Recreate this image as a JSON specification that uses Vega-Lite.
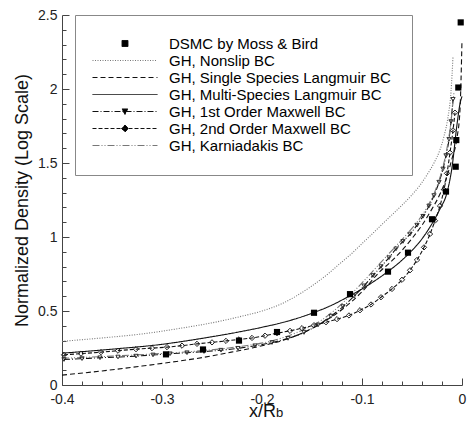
{
  "$schema": "https://vega.github.io/schema/vega-lite/v6.json",
  "width": 400,
  "height": 370,
  "autosize": {"type": "none"},
  "padding": {"left": 62, "top": 15, "right": 6, "bottom": 36},
  "background": "white",
  "config": {
    "view": {"stroke": null},
    "font": "Liberation Sans",
    "axis": {"grid": false, "domainColor": "#444", "tickColor": "#444", "labelColor": "#222", "titleColor": "#111", "labelFont": "Liberation Sans", "titleFont": "Liberation Sans", "titleFontWeight": "normal"},
    "legend": {"title": null, "orient": "none", "legendX": 13, "legendY": 0, "padding": 21, "strokeColor": "#888888", "fillColor": "white", "symbolSize": 196, "symbolStrokeWidth": 1, "symbolOpacity": 1, "labelFontSize": 15, "labelFont": "Liberation Sans", "labelColor": "black", "labelOffset": 58, "labelLimit": 400, "rowPadding": 1}
  },
  "datasets": {
    "curves": [
      {"series": "GH, Nonslip BC", "x": -0.4, "y": 0.295},
      {"series": "GH, Nonslip BC", "x": -0.36, "y": 0.318},
      {"series": "GH, Nonslip BC", "x": -0.32, "y": 0.345},
      {"series": "GH, Nonslip BC", "x": -0.28, "y": 0.385},
      {"series": "GH, Nonslip BC", "x": -0.25, "y": 0.42},
      {"series": "GH, Nonslip BC", "x": -0.22, "y": 0.465},
      {"series": "GH, Nonslip BC", "x": -0.2, "y": 0.5},
      {"series": "GH, Nonslip BC", "x": -0.18, "y": 0.55},
      {"series": "GH, Nonslip BC", "x": -0.166, "y": 0.6},
      {"series": "GH, Nonslip BC", "x": -0.15, "y": 0.67},
      {"series": "GH, Nonslip BC", "x": -0.135, "y": 0.745},
      {"series": "GH, Nonslip BC", "x": -0.123, "y": 0.815},
      {"series": "GH, Nonslip BC", "x": -0.11, "y": 0.89},
      {"series": "GH, Nonslip BC", "x": -0.1, "y": 0.955},
      {"series": "GH, Nonslip BC", "x": -0.09, "y": 1.02},
      {"series": "GH, Nonslip BC", "x": -0.08, "y": 1.085},
      {"series": "GH, Nonslip BC", "x": -0.07, "y": 1.15},
      {"series": "GH, Nonslip BC", "x": -0.06, "y": 1.215},
      {"series": "GH, Nonslip BC", "x": -0.05, "y": 1.285},
      {"series": "GH, Nonslip BC", "x": -0.042, "y": 1.35},
      {"series": "GH, Nonslip BC", "x": -0.035, "y": 1.42},
      {"series": "GH, Nonslip BC", "x": -0.028, "y": 1.5},
      {"series": "GH, Nonslip BC", "x": -0.022, "y": 1.59},
      {"series": "GH, Nonslip BC", "x": -0.018, "y": 1.68},
      {"series": "GH, Nonslip BC", "x": -0.014, "y": 1.81},
      {"series": "GH, Nonslip BC", "x": -0.011, "y": 1.98},
      {"series": "GH, Nonslip BC", "x": -0.009, "y": 2.22},

      {"series": "GH, Single Species Langmuir BC", "x": -0.4, "y": 0.067},
      {"series": "GH, Single Species Langmuir BC", "x": -0.36, "y": 0.095},
      {"series": "GH, Single Species Langmuir BC", "x": -0.32, "y": 0.128},
      {"series": "GH, Single Species Langmuir BC", "x": -0.29, "y": 0.155},
      {"series": "GH, Single Species Langmuir BC", "x": -0.26, "y": 0.185},
      {"series": "GH, Single Species Langmuir BC", "x": -0.236, "y": 0.215},
      {"series": "GH, Single Species Langmuir BC", "x": -0.2, "y": 0.265},
      {"series": "GH, Single Species Langmuir BC", "x": -0.18, "y": 0.3},
      {"series": "GH, Single Species Langmuir BC", "x": -0.16, "y": 0.35},
      {"series": "GH, Single Species Langmuir BC", "x": -0.14, "y": 0.42},
      {"series": "GH, Single Species Langmuir BC", "x": -0.12, "y": 0.51},
      {"series": "GH, Single Species Langmuir BC", "x": -0.1, "y": 0.63},
      {"series": "GH, Single Species Langmuir BC", "x": -0.083, "y": 0.76},
      {"series": "GH, Single Species Langmuir BC", "x": -0.07, "y": 0.84},
      {"series": "GH, Single Species Langmuir BC", "x": -0.06, "y": 0.91},
      {"series": "GH, Single Species Langmuir BC", "x": -0.05, "y": 0.99},
      {"series": "GH, Single Species Langmuir BC", "x": -0.04, "y": 1.08},
      {"series": "GH, Single Species Langmuir BC", "x": -0.03, "y": 1.19},
      {"series": "GH, Single Species Langmuir BC", "x": -0.022, "y": 1.29},
      {"series": "GH, Single Species Langmuir BC", "x": -0.015, "y": 1.41},
      {"series": "GH, Single Species Langmuir BC", "x": -0.01, "y": 1.53},
      {"series": "GH, Single Species Langmuir BC", "x": -0.005, "y": 1.67},
      {"series": "GH, Single Species Langmuir BC", "x": -0.002, "y": 1.86},
      {"series": "GH, Single Species Langmuir BC", "x": 0, "y": 2.33},

      {"series": "GH, Multi-Species Langmuir BC", "x": -0.4, "y": 0.215},
      {"series": "GH, Multi-Species Langmuir BC", "x": -0.35, "y": 0.242},
      {"series": "GH, Multi-Species Langmuir BC", "x": -0.3, "y": 0.275},
      {"series": "GH, Multi-Species Langmuir BC", "x": -0.26, "y": 0.315},
      {"series": "GH, Multi-Species Langmuir BC", "x": -0.233, "y": 0.346},
      {"series": "GH, Multi-Species Langmuir BC", "x": -0.2, "y": 0.39},
      {"series": "GH, Multi-Species Langmuir BC", "x": -0.175, "y": 0.43},
      {"series": "GH, Multi-Species Langmuir BC", "x": -0.15, "y": 0.485},
      {"series": "GH, Multi-Species Langmuir BC", "x": -0.13, "y": 0.54},
      {"series": "GH, Multi-Species Langmuir BC", "x": -0.113, "y": 0.6},
      {"series": "GH, Multi-Species Langmuir BC", "x": -0.095, "y": 0.67},
      {"series": "GH, Multi-Species Langmuir BC", "x": -0.075, "y": 0.762},
      {"series": "GH, Multi-Species Langmuir BC", "x": -0.064, "y": 0.82},
      {"series": "GH, Multi-Species Langmuir BC", "x": -0.053, "y": 0.889},
      {"series": "GH, Multi-Species Langmuir BC", "x": -0.042, "y": 0.97},
      {"series": "GH, Multi-Species Langmuir BC", "x": -0.03, "y": 1.09},
      {"series": "GH, Multi-Species Langmuir BC", "x": -0.022, "y": 1.19},
      {"series": "GH, Multi-Species Langmuir BC", "x": -0.015, "y": 1.3},
      {"series": "GH, Multi-Species Langmuir BC", "x": -0.01, "y": 1.47},
      {"series": "GH, Multi-Species Langmuir BC", "x": -0.005, "y": 1.76},
      {"series": "GH, Multi-Species Langmuir BC", "x": -0.002, "y": 1.9},
      {"series": "GH, Multi-Species Langmuir BC", "x": 0, "y": 1.95},

      {"series": "GH, 1st Order Maxwell BC", "x": -0.398, "y": 0.172},
      {"series": "GH, 1st Order Maxwell BC", "x": -0.38, "y": 0.178},
      {"series": "GH, 1st Order Maxwell BC", "x": -0.362, "y": 0.184},
      {"series": "GH, 1st Order Maxwell BC", "x": -0.344, "y": 0.189},
      {"series": "GH, 1st Order Maxwell BC", "x": -0.326, "y": 0.195},
      {"series": "GH, 1st Order Maxwell BC", "x": -0.309, "y": 0.203},
      {"series": "GH, 1st Order Maxwell BC", "x": -0.292, "y": 0.211},
      {"series": "GH, 1st Order Maxwell BC", "x": -0.275, "y": 0.218},
      {"series": "GH, 1st Order Maxwell BC", "x": -0.258, "y": 0.226},
      {"series": "GH, 1st Order Maxwell BC", "x": -0.241, "y": 0.235},
      {"series": "GH, 1st Order Maxwell BC", "x": -0.224, "y": 0.248},
      {"series": "GH, 1st Order Maxwell BC", "x": -0.207, "y": 0.265},
      {"series": "GH, 1st Order Maxwell BC", "x": -0.19, "y": 0.287},
      {"series": "GH, 1st Order Maxwell BC", "x": -0.174, "y": 0.315},
      {"series": "GH, 1st Order Maxwell BC", "x": -0.158, "y": 0.355},
      {"series": "GH, 1st Order Maxwell BC", "x": -0.144, "y": 0.405},
      {"series": "GH, 1st Order Maxwell BC", "x": -0.131, "y": 0.465},
      {"series": "GH, 1st Order Maxwell BC", "x": -0.119, "y": 0.53},
      {"series": "GH, 1st Order Maxwell BC", "x": -0.108, "y": 0.6},
      {"series": "GH, 1st Order Maxwell BC", "x": -0.098, "y": 0.67},
      {"series": "GH, 1st Order Maxwell BC", "x": -0.089, "y": 0.74},
      {"series": "GH, 1st Order Maxwell BC", "x": -0.081, "y": 0.8},
      {"series": "GH, 1st Order Maxwell BC", "x": -0.073, "y": 0.86},
      {"series": "GH, 1st Order Maxwell BC", "x": -0.066, "y": 0.92},
      {"series": "GH, 1st Order Maxwell BC", "x": -0.059, "y": 0.97},
      {"series": "GH, 1st Order Maxwell BC", "x": -0.052, "y": 1.02},
      {"series": "GH, 1st Order Maxwell BC", "x": -0.045, "y": 1.08},
      {"series": "GH, 1st Order Maxwell BC", "x": -0.039, "y": 1.14},
      {"series": "GH, 1st Order Maxwell BC", "x": -0.033, "y": 1.21},
      {"series": "GH, 1st Order Maxwell BC", "x": -0.028, "y": 1.28},
      {"series": "GH, 1st Order Maxwell BC", "x": -0.023, "y": 1.37},
      {"series": "GH, 1st Order Maxwell BC", "x": -0.019, "y": 1.46},
      {"series": "GH, 1st Order Maxwell BC", "x": -0.016, "y": 1.55},
      {"series": "GH, 1st Order Maxwell BC", "x": -0.013, "y": 1.66},
      {"series": "GH, 1st Order Maxwell BC", "x": -0.011, "y": 1.78},
      {"series": "GH, 1st Order Maxwell BC", "x": -0.009, "y": 1.93},

      {"series": "GH, 2nd Order Maxwell BC", "x": -0.398, "y": 0.204},
      {"series": "GH, 2nd Order Maxwell BC", "x": -0.381, "y": 0.212},
      {"series": "GH, 2nd Order Maxwell BC", "x": -0.361, "y": 0.222},
      {"series": "GH, 2nd Order Maxwell BC", "x": -0.344, "y": 0.232},
      {"series": "GH, 2nd Order Maxwell BC", "x": -0.326, "y": 0.242},
      {"series": "GH, 2nd Order Maxwell BC", "x": -0.31, "y": 0.249},
      {"series": "GH, 2nd Order Maxwell BC", "x": -0.295, "y": 0.256},
      {"series": "GH, 2nd Order Maxwell BC", "x": -0.28, "y": 0.266},
      {"series": "GH, 2nd Order Maxwell BC", "x": -0.265, "y": 0.278},
      {"series": "GH, 2nd Order Maxwell BC", "x": -0.25, "y": 0.288},
      {"series": "GH, 2nd Order Maxwell BC", "x": -0.236, "y": 0.298},
      {"series": "GH, 2nd Order Maxwell BC", "x": -0.223, "y": 0.308},
      {"series": "GH, 2nd Order Maxwell BC", "x": -0.21, "y": 0.318},
      {"series": "GH, 2nd Order Maxwell BC", "x": -0.197, "y": 0.333},
      {"series": "GH, 2nd Order Maxwell BC", "x": -0.185, "y": 0.35},
      {"series": "GH, 2nd Order Maxwell BC", "x": -0.172, "y": 0.366},
      {"series": "GH, 2nd Order Maxwell BC", "x": -0.16, "y": 0.384},
      {"series": "GH, 2nd Order Maxwell BC", "x": -0.148, "y": 0.404},
      {"series": "GH, 2nd Order Maxwell BC", "x": -0.136, "y": 0.424},
      {"series": "GH, 2nd Order Maxwell BC", "x": -0.125, "y": 0.445},
      {"series": "GH, 2nd Order Maxwell BC", "x": -0.113, "y": 0.47},
      {"series": "GH, 2nd Order Maxwell BC", "x": -0.102, "y": 0.505},
      {"series": "GH, 2nd Order Maxwell BC", "x": -0.091, "y": 0.544},
      {"series": "GH, 2nd Order Maxwell BC", "x": -0.081, "y": 0.593},
      {"series": "GH, 2nd Order Maxwell BC", "x": -0.07, "y": 0.649},
      {"series": "GH, 2nd Order Maxwell BC", "x": -0.06, "y": 0.711},
      {"series": "GH, 2nd Order Maxwell BC", "x": -0.052, "y": 0.775},
      {"series": "GH, 2nd Order Maxwell BC", "x": -0.045, "y": 0.845},
      {"series": "GH, 2nd Order Maxwell BC", "x": -0.038, "y": 0.93},
      {"series": "GH, 2nd Order Maxwell BC", "x": -0.032, "y": 1.02},
      {"series": "GH, 2nd Order Maxwell BC", "x": -0.027, "y": 1.11},
      {"series": "GH, 2nd Order Maxwell BC", "x": -0.022, "y": 1.21},
      {"series": "GH, 2nd Order Maxwell BC", "x": -0.018, "y": 1.32},
      {"series": "GH, 2nd Order Maxwell BC", "x": -0.015, "y": 1.43},
      {"series": "GH, 2nd Order Maxwell BC", "x": -0.012, "y": 1.57},
      {"series": "GH, 2nd Order Maxwell BC", "x": -0.009, "y": 1.72},
      {"series": "GH, 2nd Order Maxwell BC", "x": -0.007, "y": 1.84},

      {"series": "GH, Karniadakis BC", "x": -0.4, "y": 0.18},
      {"series": "GH, Karniadakis BC", "x": -0.35, "y": 0.195},
      {"series": "GH, Karniadakis BC", "x": -0.3, "y": 0.213},
      {"series": "GH, Karniadakis BC", "x": -0.26, "y": 0.232},
      {"series": "GH, Karniadakis BC", "x": -0.22, "y": 0.262},
      {"series": "GH, Karniadakis BC", "x": -0.19, "y": 0.298},
      {"series": "GH, Karniadakis BC", "x": -0.16, "y": 0.37},
      {"series": "GH, Karniadakis BC", "x": -0.14, "y": 0.44},
      {"series": "GH, Karniadakis BC", "x": -0.12, "y": 0.55},
      {"series": "GH, Karniadakis BC", "x": -0.1, "y": 0.69},
      {"series": "GH, Karniadakis BC", "x": -0.085, "y": 0.8},
      {"series": "GH, Karniadakis BC", "x": -0.07, "y": 0.91},
      {"series": "GH, Karniadakis BC", "x": -0.055, "y": 1.02},
      {"series": "GH, Karniadakis BC", "x": -0.045, "y": 1.1},
      {"series": "GH, Karniadakis BC", "x": -0.035, "y": 1.2},
      {"series": "GH, Karniadakis BC", "x": -0.027, "y": 1.31},
      {"series": "GH, Karniadakis BC", "x": -0.02, "y": 1.45},
      {"series": "GH, Karniadakis BC", "x": -0.015, "y": 1.6},
      {"series": "GH, Karniadakis BC", "x": -0.011, "y": 1.78},
      {"series": "GH, Karniadakis BC", "x": -0.008, "y": 1.98}
    ],
    "dsmc": [
      {"series": "DSMC by Moss & Bird", "x": -0.296, "y": 0.207},
      {"series": "DSMC by Moss & Bird", "x": -0.259, "y": 0.24},
      {"series": "DSMC by Moss & Bird", "x": -0.223, "y": 0.3},
      {"series": "DSMC by Moss & Bird", "x": -0.185, "y": 0.358},
      {"series": "DSMC by Moss & Bird", "x": -0.148, "y": 0.488},
      {"series": "DSMC by Moss & Bird", "x": -0.112, "y": 0.614},
      {"series": "DSMC by Moss & Bird", "x": -0.074, "y": 0.766},
      {"series": "DSMC by Moss & Bird", "x": -0.054, "y": 0.894},
      {"series": "DSMC by Moss & Bird", "x": -0.03, "y": 1.12},
      {"series": "DSMC by Moss & Bird", "x": -0.016, "y": 1.307},
      {"series": "DSMC by Moss & Bird", "x": -0.0063, "y": 1.475},
      {"series": "DSMC by Moss & Bird", "x": -0.0057, "y": 1.655},
      {"series": "DSMC by Moss & Bird", "x": -0.0037, "y": 2.01},
      {"series": "DSMC by Moss & Bird", "x": -0.0013, "y": 2.45}
    ],
    "sub": [{"text": "b"}]
  },
  "resolve": {"axis": {"x": "independent", "y": "independent"}},
  "layer": [
    {
      "data": {"name": "curves"},
      "mark": {"type": "line", "interpolate": "monotone", "strokeWidth": 1.1},
      "encoding": {
        "x": {"field": "x", "type": "quantitative", "scale": {"domain": [-0.4, 0], "nice": false, "zero": false},
          "axis": {"orient": "bottom", "title": "x/R", "values": [-0.4, -0.3, -0.2, -0.1, 0], "labelExpr": "'' + datum.value", "tickSize": -7, "labelFontSize": 14, "labelPadding": 14, "labelFlush": false, "titleFontSize": 18, "titlePadding": -4}},
        "y": {"field": "y", "type": "quantitative", "scale": {"domain": [0, 2.5], "nice": false},
          "axis": {"orient": "left", "title": "Normalized Density (Log Scale)", "values": [0, 0.5, 1, 1.5, 2, 2.5], "labelExpr": "'' + datum.value", "tickSize": -7, "labelFontSize": 14, "labelPadding": 12, "labelFlush": false, "titleFontSize": 18, "titlePadding": 6}},
        "strokeDash": {"field": "series", "type": "nominal",
          "scale": {"domain": ["DSMC by Moss & Bird", "GH, Nonslip BC", "GH, Single Species Langmuir BC", "GH, Multi-Species Langmuir BC", "GH, 1st Order Maxwell BC", "GH, 2nd Order Maxwell BC", "GH, Karniadakis BC"],
                    "range": [[1, 0], [1, 1.5], [5, 3], [1, 0], [6, 2, 1, 2], [4, 2], [7, 2, 1, 2, 1, 2]]}},
        "stroke": {"field": "series", "type": "nominal",
          "scale": {"domain": ["DSMC by Moss & Bird", "GH, Nonslip BC", "GH, Single Species Langmuir BC", "GH, Multi-Species Langmuir BC", "GH, 1st Order Maxwell BC", "GH, 2nd Order Maxwell BC", "GH, Karniadakis BC"],
                    "range": ["#111111", "#777777", "#111111", "#111111", "#111111", "#111111", "#777777"]}}
      }
    },
    {
      "data": {"name": "curves"},
      "transform": [{"filter": "datum.series == 'GH, 1st Order Maxwell BC'"}],
      "mark": {"type": "point", "shape": "triangle-down", "filled": false, "stroke": "#222", "strokeWidth": 0.9, "size": 18, "opacity": 1},
      "encoding": {
        "x": {"field": "x", "type": "quantitative", "axis": null},
        "y": {"field": "y", "type": "quantitative", "axis": null}
      }
    },
    {
      "data": {"name": "curves"},
      "transform": [{"filter": "datum.series == 'GH, 2nd Order Maxwell BC'"}],
      "mark": {"type": "point", "shape": "diamond", "filled": false, "stroke": "#222", "strokeWidth": 1, "size": 28, "opacity": 1},
      "encoding": {
        "x": {"field": "x", "type": "quantitative", "axis": null},
        "y": {"field": "y", "type": "quantitative", "axis": null}
      }
    },
    {
      "data": {"name": "dsmc"},
      "mark": {"type": "point", "shape": "square", "filled": true, "color": "black", "size": 38, "opacity": 1},
      "encoding": {
        "x": {"field": "x", "type": "quantitative", "axis": null},
        "y": {"field": "y", "type": "quantitative", "axis": null}
      }
    },
    {
      "data": {"name": "sub"},
      "mark": {"type": "text", "fontSize": 13, "align": "left", "baseline": "alphabetic", "dx": 14, "dy": 32, "color": "#111", "font": "Liberation Sans"},
      "encoding": {
        "text": {"field": "text"},
        "x": {"datum": -0.2, "type": "quantitative", "axis": null},
        "y": {"datum": 0, "type": "quantitative", "axis": null}
      }
    },
    {
      "data": {"name": "curves"},
      "transform": [{"filter": "false"}],
      "mark": {"type": "point"},
      "encoding": {
        "x": {"field": "x", "type": "quantitative",
          "axis": {"orient": "bottom", "title": null, "values": [-0.38, -0.36, -0.34, -0.32, -0.28, -0.26, -0.24, -0.22, -0.18, -0.16, -0.14, -0.12, -0.08, -0.06, -0.04, -0.02], "labels": false, "domain": false, "tickSize": -4}},
        "y": {"field": "y", "type": "quantitative",
          "axis": {"orient": "left", "title": null, "values": [0.1, 0.2, 0.3, 0.4, 0.6, 0.7, 0.8, 0.9, 1.1, 1.2, 1.3, 1.4, 1.6, 1.7, 1.8, 1.9, 2.1, 2.2, 2.3, 2.4], "labels": false, "domain": false, "tickSize": -4}},
        "shape": {"field": "series", "type": "nominal",
          "scale": {"domain": ["DSMC by Moss & Bird", "GH, Nonslip BC", "GH, Single Species Langmuir BC", "GH, Multi-Species Langmuir BC", "GH, 1st Order Maxwell BC", "GH, 2nd Order Maxwell BC", "GH, Karniadakis BC"],
                    "range": ["M2.64,-0.43H3.5V0.43H2.64Z", "M-1.57,0H7.71", "M-1.57,0H7.71", "M-1.57,0H7.71", "M-1.57,0H7.71M2.63,-0.36H3.51L3.07,0.42Z", "M-1.57,0H7.71M3.07,-0.5L3.57,0L3.07,0.5L2.57,0Z", "M-1.57,0H7.71"]}},
        "strokeDash": {"field": "series", "type": "nominal",
          "scale": {"domain": ["DSMC by Moss & Bird", "GH, Nonslip BC", "GH, Single Species Langmuir BC", "GH, Multi-Species Langmuir BC", "GH, 1st Order Maxwell BC", "GH, 2nd Order Maxwell BC", "GH, Karniadakis BC"],
                    "range": [[1, 0], [1, 1.5], [5, 3], [1, 0], [6, 2, 1, 2], [4, 2], [7, 2, 1, 2, 1, 2]]}},
        "stroke": {"field": "series", "type": "nominal",
          "scale": {"domain": ["DSMC by Moss & Bird", "GH, Nonslip BC", "GH, Single Species Langmuir BC", "GH, Multi-Species Langmuir BC", "GH, 1st Order Maxwell BC", "GH, 2nd Order Maxwell BC", "GH, Karniadakis BC"],
                    "range": ["#111111", "#777777", "#111111", "#111111", "#111111", "#111111", "#777777"]}},
        "fill": {"field": "series", "type": "nominal",
          "scale": {"domain": ["DSMC by Moss & Bird", "GH, Nonslip BC", "GH, Single Species Langmuir BC", "GH, Multi-Species Langmuir BC", "GH, 1st Order Maxwell BC", "GH, 2nd Order Maxwell BC", "GH, Karniadakis BC"],
                    "range": ["black", "transparent", "transparent", "transparent", "black", "black", "transparent"]}}
      }
    }
  ]
}
